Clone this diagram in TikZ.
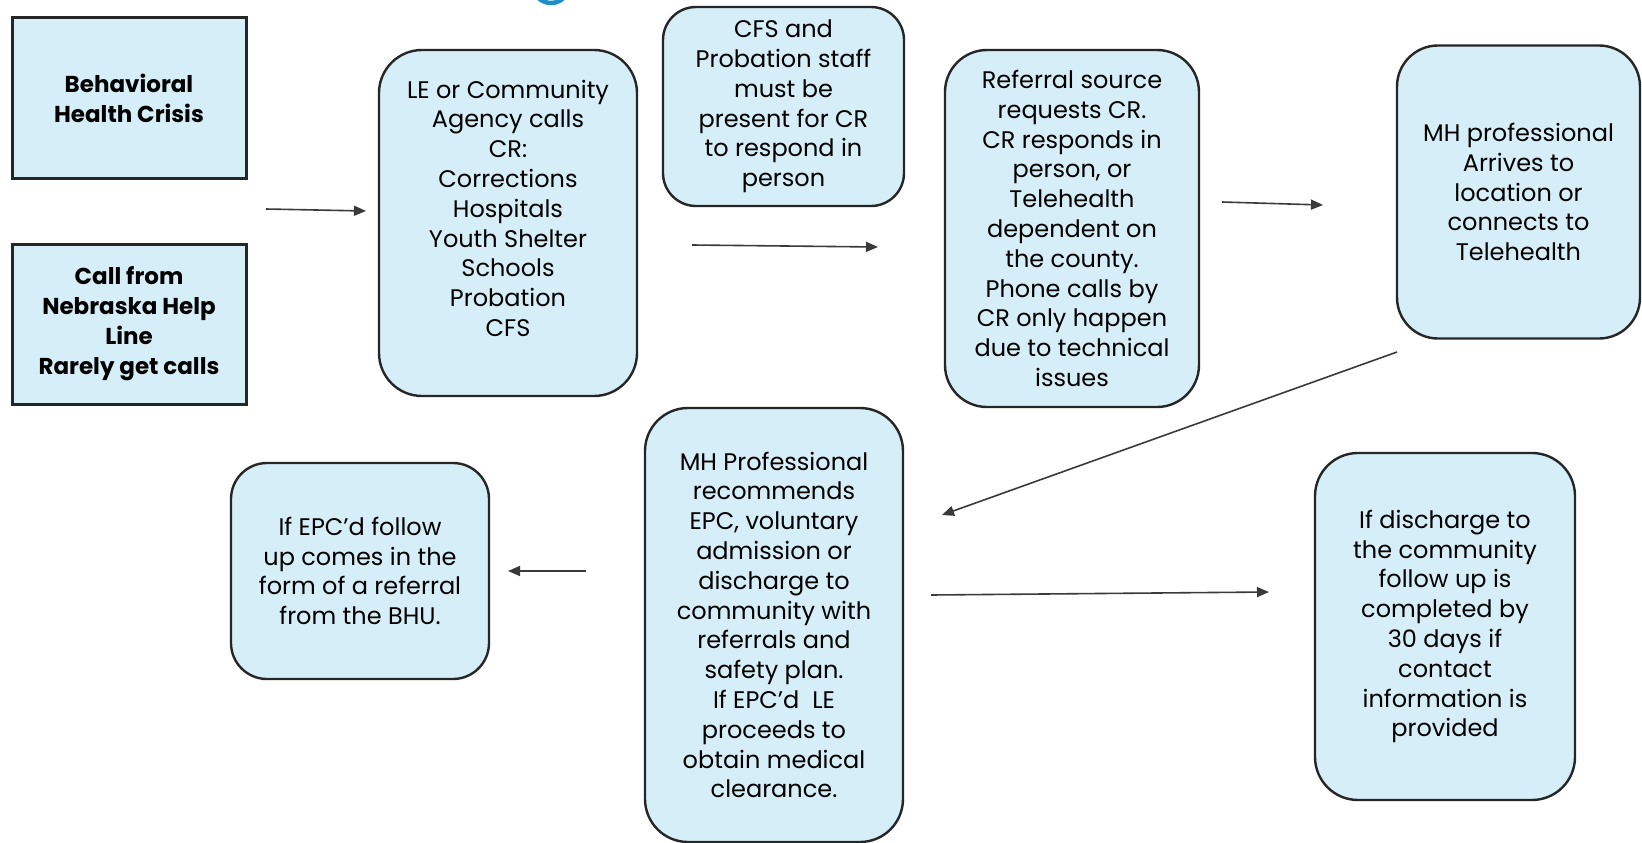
\documentclass[tikz,border=0pt]{standalone}
\usepackage{fontspec}
\setmainfont{Poppins}
\usetikzlibrary{arrows.meta}
\definecolor{boxfill}{RGB}{214,238,248}
\definecolor{boxline}{RGB}{38,38,38}
\definecolor{arrowline}{RGB}{58,58,58}
\definecolor{ringblue}{RGB}{30,144,200}
\tikzset{
  stepbox/.style={draw=boxline, line width=2.4pt, fill=boxfill, align=center,
    inner sep=0pt, font=\fontsize{24}{29.8}\selectfont},
  squarebox/.style={stepbox, rectangle, line width=3pt,
    font=\fontsize{23}{30}\selectfont\bfseries},
  flow/.style={draw=arrowline, line width=1.6pt,
    -{Triangle[length=12pt,width=10pt]}}
}
\begin{document}
\begin{tikzpicture}[x=1pt,y=-1pt]
\useasboundingbox (0,0) rectangle (1642,843);
\clip (0,0) rectangle (1642,843);

% partial ring at the top edge
\draw[ringblue, line width=4.5pt] (551,-15) circle[radius=18];

% left starting points
\node[squarebox, minimum width=234pt, minimum height=160pt] (behav) at (129,98)
  {Behavioral\\Health Crisis};
\node[squarebox, minimum width=234pt, minimum height=160pt] (call) at (129,324)
  {Call from\\Nebraska Help\\Line\\Rarely get calls};

% process steps
\node[stepbox, rounded corners=43pt, minimum width=258pt, minimum height=346pt] (le) at (508,223)
  {LE or Community\\Agency calls\\CR:\\Corrections\\Hospitals\\Youth Shelter\\Schools\\Probation\\CFS\\~};
\node[stepbox, rounded corners=33pt, minimum width=241pt, minimum height=199pt] (cfs) at (783.5,106.5)
  {CFS and\\Probation staff\\must be\\present for CR\\to respond in\\person};
\node[stepbox, rounded corners=42pt, minimum width=254pt, minimum height=357pt] (ref) at (1072,228.5)
  {Referral source\\requests CR.\\CR responds in\\person, or\\Telehealth\\dependent on\\the county.\\Phone calls by\\CR only happen\\due to technical\\issues};
\node[stepbox, rounded corners=41pt, minimum width=243pt, minimum height=293pt] (mh) at (1518.5,192)
  {MH professional\\Arrives to\\location or\\connects to\\Telehealth};
\node[stepbox, rounded corners=36pt, minimum width=258pt, minimum height=216pt] (epc) at (360,571)
  {If EPC'd follow\\up comes in the\\form of a referral\\from the BHU.};
\node[stepbox, rounded corners=43pt, minimum width=258pt, minimum height=434pt] (mhp) at (774,625)
  {MH Professional\\recommends\\EPC, voluntary\\admission or\\discharge to\\community with\\referrals and\\safety plan.\\If EPC'd\ \ LE\\proceeds to\\obtain medical\\clearance.};
\node[stepbox, rounded corners=43pt, minimum width=260pt, minimum height=347pt] (dis) at (1445,626.5)
  {If discharge to\\the community\\follow up is\\completed by\\30 days if\\contact\\information is\\provided};

% free-standing arrows between the columns
\coordinate (a1s) at (266,209);   \coordinate (a1e) at (366,211);
\coordinate (a2s) at (692,245);   \coordinate (a2e) at (878,247);
\coordinate (a3s) at (1222,202);  \coordinate (a3e) at (1323,205);
\coordinate (a4s) at (1397,352);  \coordinate (a4e) at (942,515);
\coordinate (a5s) at (586,571);   \coordinate (a5e) at (508,571);
\coordinate (a6s) at (931,595);   \coordinate (a6e) at (1269,592);

\draw[flow] (a1s) -- (a1e);
\draw[flow] (a2s) -- (a2e);
\draw[flow] (a3s) -- (a3e);
\draw[flow] (a4s) -- (a4e);
\draw[flow] (a5s) -- (a5e);
\draw[flow] (a6s) -- (a6e);
\end{tikzpicture}
\end{document}
